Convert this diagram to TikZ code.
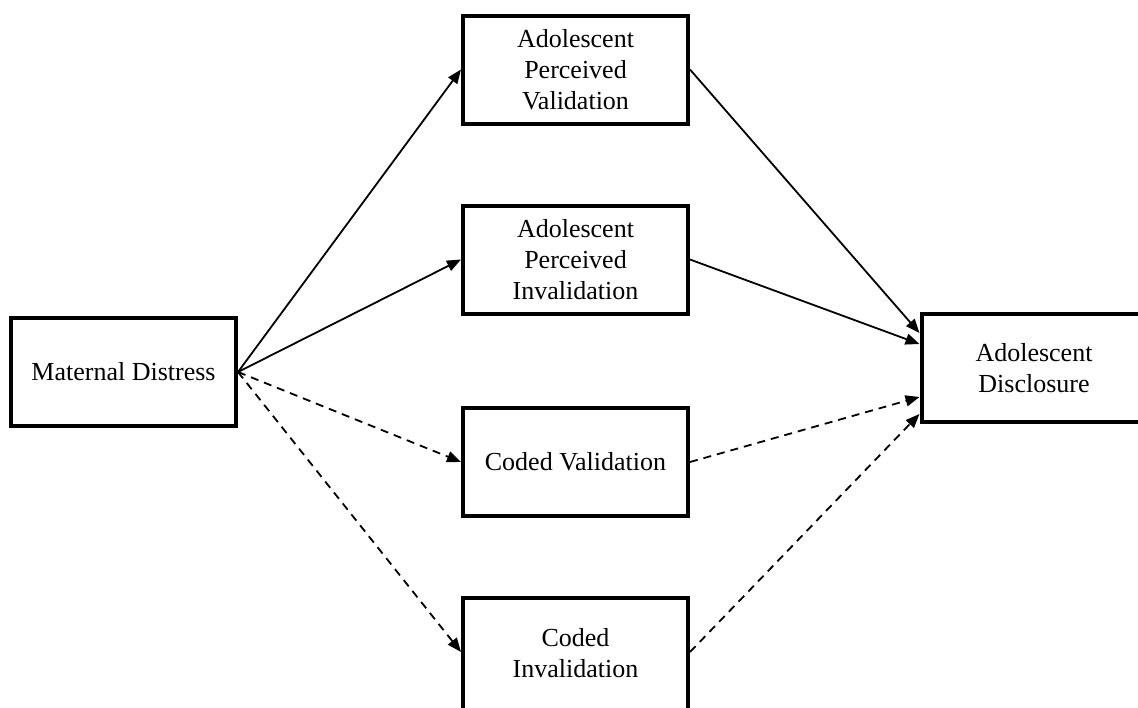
\documentclass[tikz,border=0pt]{standalone}
\usepackage{fontspec}
\setmainfont{Liberation Serif}
\usetikzlibrary{arrows.meta,calc}
\begin{document}
\begin{tikzpicture}[x=1pt,y=-1pt,
  box/.style={draw,line width=4pt,minimum width=225pt,minimum height=108pt,
    align=center,inner sep=0pt,font=\fontsize{26}{31}\selectfont},
  path/.style={line width=1.8pt,-{Triangle[length=14pt,width=11pt]}},
  dpath/.style={path,dash pattern=on 8pt off 6pt}]
\useasboundingbox (0,0) rectangle (1138,707);
\clip (0,0) rectangle (1138,707);
\fill[white] (0,0) rectangle (1138,707);
\node[box] (MD)  at (123.5,372)  {Maternal Distress};
\node[box] (APV) at (575.5,69.5) {Adolescent\\Perceived\\Validation};
\node[box] (API) at (575.5,259.5){Adolescent\\Perceived\\Invalidation};
\node[box] (CV)  at (575.5,462)  {Coded Validation};
\node[box,minimum height=116pt,text depth=6pt] (CI) at (575.5,656) {Coded\\Invalidation};
\node[box] (AD)  at (1034,368)   {Adolescent\\Disclosure};
\coordinate (ad1) at ($(AD.north west)+(0,21)$);
\coordinate (ad2) at ($(AD.north west)+(0,32)$);
\coordinate (ad3) at ($(AD.north west)+(0,85)$);
\coordinate (ad4) at ($(AD.north west)+(0,102)$);
\coordinate (ci) at ($(CI.west)+(0,-4)$);
\coordinate (cie) at ($(CI.east)+(0,-4)$);
\draw[path]  (MD.east) -- (APV.west);
\draw[path]  (MD.east) -- (API.west);
\draw[dpath] (MD.east) -- (CV.west);
\draw[dpath] (MD.east) -- (ci);
\draw[path]  (APV.east) -- (ad1);
\draw[path]  (API.east) -- (ad2);
\draw[dpath] (CV.east) -- (ad3);
\draw[dpath] (cie) -- (ad4);
\end{tikzpicture}
\end{document}
